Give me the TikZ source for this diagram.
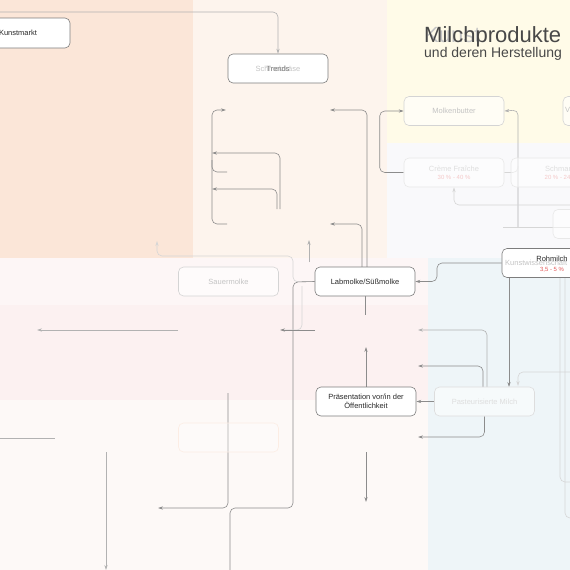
\documentclass[tikz,border=0pt]{standalone}
\usepackage{fontspec}
\setmainfont{Liberation Sans}
\usetikzlibrary{arrows.meta,calc}
\definecolor{orangeZ}{RGB}{251,230,216}
\definecolor{peachZ}{RGB}{253,244,237}
\definecolor{yellowZ}{RGB}{255,251,232}
\definecolor{grayZ}{RGB}{249,249,251}
\definecolor{pinkA}{RGB}{253,246,246}
\definecolor{pinkB}{RGB}{252,241,241}
\definecolor{lowZ}{RGB}{253,249,247}
\definecolor{blueZ}{RGB}{238,245,248}
\definecolor{boxC}{RGB}{125,125,125}
\definecolor{txtC}{RGB}{40,40,40}
\definecolor{fboxC}{RGB}{212,212,212}
\definecolor{ftxtC}{RGB}{196,196,196}
\definecolor{ffboxC}{RGB}{232,232,232}
\definecolor{fftxtC}{RGB}{222,222,222}
\definecolor{lineC}{RGB}{140,140,140}
\definecolor{mlineC}{RGB}{178,178,178}
\definecolor{flineC}{RGB}{214,214,214}
\definecolor{redC}{RGB}{226,90,90}
\definecolor{fredC}{RGB}{244,200,200}
\definecolor{titleC}{RGB}{72,72,72}
\pgfdeclarelayer{zone}
\pgfdeclarelayer{lines}
\pgfsetlayers{zone,lines,main}
\begin{document}
\begin{tikzpicture}[x=1pt,y=-1pt,
  box/.style={draw=boxC, fill=white, rounded corners=5pt, minimum width=100pt,
    minimum height=29pt, line width=0.6pt, font=\fontsize{7.5}{9}\selectfont,
    text=txtC, align=center, inner sep=1pt},
  fbox/.style={box, draw=fboxC, fill=white, fill opacity=0.6, text opacity=1, text=ftxtC},
  ffbox/.style={box, draw=ffboxC, fill=white, fill opacity=0.5, text opacity=1, text=fftxtC},
  plaintext/.style={inner sep=0pt, font=\fontsize{7.5}{9}\selectfont, text=txtC},
  conn/.style={draw=lineC, line width=0.6pt, rounded corners=5pt},
  mconn/.style={conn, draw=mlineC},
  fconn/.style={conn, draw=flineC},
  arr/.style={-{Stealth[length=5pt,width=3.2pt]}}]
\useasboundingbox (0,0) rectangle (570,570);

\begin{pgfonlayer}{zone}
\clip (0,0) rectangle (570,570);
\fill[orangeZ] (0,0) rectangle (193,258);
\fill[peachZ] (193,0) rectangle (387,258);
\fill[yellowZ] (387,0) rectangle (570,143);
\fill[grayZ] (387,143) rectangle (570,258);
\fill[pinkA] (0,258) rectangle (428,305);
\fill[pinkB] (0,305) rectangle (428,400);
\fill[lowZ] (0,400) rectangle (428,570);
\fill[blueZ] (428,258) rectangle (570,570);
\end{pgfonlayer}

% nodes
\node[box, minimum width=104pt, minimum height=30pt] (kunst) at (18,33) {Kunstmarkt};
\node[box] (trends) at (278,68.5) {};
\node[plaintext, text=ftxtC] (trendsA) at (trends.center) {Schmelzkäse};
\node[plaintext, text=boxC] (trendsB) at (trends.center) {Trends};

\node[inner sep=0pt, anchor=base west, font=\fontsize{22}{24}\selectfont, text=ftxtC] (titleB) at (424,42) {Kunst};
\node[inner sep=0pt, anchor=base west, font=\fontsize{22}{24}\selectfont, text=titleC] (title) at (424,42) {Milchprodukte};
\node[inner sep=0pt, anchor=base west, font=\fontsize{14}{16}\selectfont, text=titleC] (subtitle) at (424,57.5) {und deren Herstellung};

\node[fbox] (molken) at (454,111) {Molkenbutter};
\node[fbox] (vbox) at (613,111) {};
\node[plaintext, text=ftxtC, anchor=west] (vtext) at (565,110) {Vollmilch};
\node[ffbox] (creme) at (454,172.5) {Crème Fraîche\\[-1pt]{\fontsize{6}{7}\selectfont\color{fredC}30 \% - 40 \%}};
\node[ffbox] (schmand) at (561,172.5) {Schmand\\[-1pt]{\fontsize{6}{7}\selectfont\color{fredC}20 \% - 24 \%}};
\node[ffbox] (rbox) at (603,224) {};

\node[box] (roh) at (552,263) {};
\node[plaintext, text=ftxtC, anchor=west] (rohA) at (505,263) {Kunstwissenschaft};
\node[plaintext] (rohB) at (552,258.5) {Rohmilch};
\node[plaintext, font=\fontsize{6}{7}\selectfont, text=redC] (rohC) at (552,269.5) {3,5 - 5 \%};

\node[fbox] (sauer) at (228.5,281.5) {Sauermolke};
\node[box] (lab) at (365,281.5) {Labmolke/Süßmolke};
\node[box] (praes) at (366,401.5) {Präsentation vor/in der\\Öffentlichkeit};
\node[ffbox, draw=fboxC!80] (past) at (484.5,401.5) {Pasteurisierte Milch};
\node[box, draw=orangeZ!70!white, fill=white, fill opacity=0.3] (empty) at (228.5,437.5) {};

% free ends
\coordinate (c1) at (0,12);
\coordinate (b1e) at (227,224);
\coordinate (b1s) at (226,110);
\coordinate (b2s) at (212,160);
\coordinate (b2e) at (227,172);
\coordinate (e1) at (280,209);
\coordinate (t1) at (212,153);
\coordinate (e2) at (277,209);
\coordinate (t2) at (212,189);
\coordinate (a3) at (367,267);
\coordinate (t3) at (330,110);
\coordinate (a4) at (362,267);
\coordinate (t4) at (330,224);
\coordinate (m1) at (518,227);
\coordinate (m2) at (503,227);
\coordinate (m3) at (570,227);
\coordinate (m4) at (518,166);
\coordinate (f1) at (570,205);
\coordinate (u1) at (309,262);
\coordinate (u2) at (309,240);
\coordinate (u3) at (157,241);
\coordinate (l1) at (293,282);
\coordinate (l2) at (230,570);
\coordinate (s1) at (302,286);
\coordinate (s2) at (284,330);
\coordinate (s3) at (315,330);
\coordinate (s4) at (280,330);
\coordinate (g1) at (178,330);
\coordinate (g2) at (37,330);
\coordinate (h1) at (0,438);
\coordinate (h2) at (55,438);
\coordinate (v1) at (106,452);
\coordinate (v2) at (106,570);
\coordinate (w1) at (228,393);
\coordinate (w2) at (158,508);
\coordinate (p1) at (366,347);
\coordinate (p2) at (366,452);
\coordinate (p3) at (366,502);
\coordinate (q1) at (418,437);
\coordinate (q2) at (483,387);
\coordinate (q3) at (418,366);
\coordinate (q4) at (487,387);
\coordinate (q5) at (418,330);
\coordinate (r1) at (509,277);
\coordinate (r2) at (509,387);
\coordinate (r3) at (570,372);
\coordinate (r4) at (518,386);
\coordinate (x1) at (560,277);
\coordinate (x2) at (570,482);
\coordinate (x3) at (565,277);
\coordinate (x4) at (570,518);

\begin{pgfonlayer}{lines}
\clip (0,0) rectangle (570,570);
\draw[mconn,arr] (c1) -| (trends.north);
% left bracket group
\draw[conn,arr] (b1e) -- ++(-15,0) |- (b1s);
\draw[conn] (b2s) |- (b2e);
\draw[conn,arr] (e1) |- (t1);
\draw[conn,arr] (e2) |- (t2);
\draw[conn,arr] (a3) |- (t3);
\draw[conn,arr] (a4) |- (t4);
\draw[conn,arr] (creme.west) -- ++(-24,0) |- (molken.west);
\draw[mconn,arr] (m1) -- (518,110) -- (molken.east);
\draw[fconn] (m2) -- (m3);
\draw[fconn] (creme.east) -| (m4);
\draw[fconn,arr] (f1) -| (creme.south);
\draw[mconn,arr] (u1) -- (u2);
\draw[fconn,arr] (lab.west) -- (l1) |- (157,256) -- (u3);
\draw[conn] (lab.west) -- (l1) |- (230,508) -- (l2);
\draw[fconn] (s1) |- (s2);
\draw[conn,arr] (s3) -- (s4);
\draw[mconn,arr] (g1) -- (g2);
\draw[mconn] (h1) -- (h2);
\draw[mconn,arr] (v1) -- (v2);
\draw[conn,arr] (w1) |- (w2);
\draw[conn] (lab.south) -- ++(0,19);
\draw[conn,arr] (praes.north) -- (p1);
\draw[conn,arr] (p2) -- (p3);
\draw[conn,arr] (past.west) -- (praes.east);
\draw[conn,arr] (past.south) |- (q1);
\draw[conn,arr] (q2) |- (q3);
\draw[mconn,arr] (q4) |- (q5);
\draw[conn,arr] (roh.west) -- (437,263) |- (lab.east);
\draw[conn,arr] (r1) -- (r2);
\draw[fconn,arr] (r3) -| (r4);
\draw[fconn] (x1) |- (x2);
\draw[fconn] (x3) |- (x4);
\end{pgfonlayer}
\end{tikzpicture}
\end{document}
